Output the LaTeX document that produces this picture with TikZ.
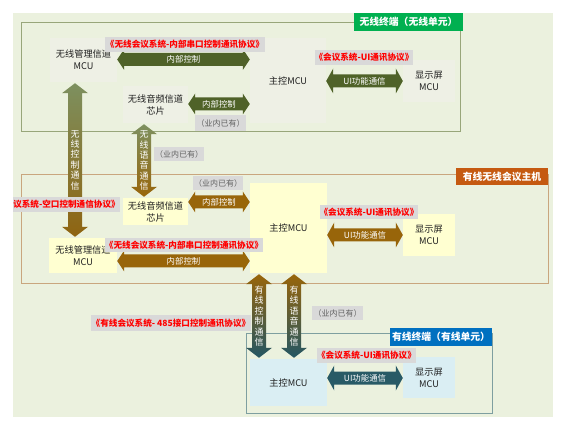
\documentclass[tikz,border=0pt]{standalone}
\usepackage{fontspec}
\setmainfont{Noto Sans CJK SC}
\usetikzlibrary{calc}
\definecolor{bgc}{HTML}{EBF1DE}
\definecolor{wfill}{HTML}{EEF0E5}
\definecolor{hfill}{HTML}{FFFFD1}
\definecolor{dfill}{HTML}{DAEEF3}
\definecolor{warr}{HTML}{4F6228}
\definecolor{harc}{HTML}{98650A}
\definecolor{darc}{HTML}{285A66}
\definecolor{lblgray}{HTML}{D9D9D9}
\definecolor{wframe}{HTML}{98A67A}
\definecolor{hframe}{HTML}{C9A67E}
\definecolor{dframe}{HTML}{7E9FA0}
\definecolor{wtitle}{HTML}{00B050}
\definecolor{htitle}{HTML}{C55A11}
\definecolor{dtitle}{HTML}{0070C0}
\definecolor{vgreen}{HTML}{7D905F}
\definecolor{vbrown}{HTML}{8F6411}
\definecolor{vteal}{HTML}{245663}
% horizontal double arrow: #1 from, #2 to, #3 y, #4 head half height, #5 colour, #6 text, #7 name
\newcommand\hconn[7]{%
  \coordinate (hA) at (#1.east |- 0,#3);
  \coordinate (hB) at (#2.west |- 0,#3);
  \fill[#5] (hA) -- ([shift={(7,-#4)}]hA) -- ([shift={(7,-6.5)}]hA) -- ([shift={(-7,-6.5)}]hB)
    -- ([shift={(-7,-#4)}]hB) -- (hB) -- ([shift={(-7,#4)}]hB) -- ([shift={(-7,6.5)}]hB)
    -- ([shift={(7,6.5)}]hA) -- ([shift={(7,#4)}]hA) -- cycle;
  \node[arrtext] (#7) at ($(hA)!0.5!(hB)$) {#6};
}
% vertical double arrow: #1 top node, #2 bottom node, #3 x, #4 top colour, #5 bottom colour, #6 text, #7 name
\newcommand\vconn[7]{%
  \coordinate (vA) at ([yshift=-1pt]#1.south -| #3,0);
  \coordinate (vB) at ([yshift=1pt]#2.north -| #3,0);
  \shade[top color=#4, bottom color=#5] (vA) -- ([shift={(13,10)}]vA) -- ([shift={(7,10)}]vA)
    -- ([shift={(7,-10)}]vB) -- ([shift={(13,-10)}]vB) -- (vB) -- ([shift={(-13,-10)}]vB)
    -- ([shift={(-7,-10)}]vB) -- ([shift={(-7,10)}]vA) -- ([shift={(-13,10)}]vA) -- cycle;
  \node[vtext] (#7) at ($(vA)!0.5!(vB)$) {#6};
}
\begin{document}
\begin{tikzpicture}[x=1pt,y=-1pt,
  box/.style={inner sep=0pt, align=center, text=black!88, font=\fontsize{9.2}{12}\selectfont},
  wbox/.style={box, fill=wfill},
  hbox/.style={box, fill=hfill},
  dbox/.style={box, fill=dfill},
  proto/.style={fill=lblgray, text=red, inner sep=0pt, font=\bfseries\fontsize{8.6}{10}\selectfont},
  have/.style={fill=lblgray, text=black!62, inner sep=0pt, font=\fontsize{8}{10}\selectfont},
  titlebox/.style={text=white, inner sep=0pt, font=\bfseries\fontsize{9.8}{12}\selectfont},
  arrtext/.style={text=white, inner sep=0pt, font=\fontsize{8.4}{10}\selectfont},
  vtext/.style={text=white, inner sep=0pt, align=center, font=\fontsize{9}{10.4}\selectfont},
  frame/.style={line width=1pt}
]
\useasboundingbox (0,0) rectangle (562,427);
\fill[bgc] (13,13) rectangle (553,417);

% frames
\draw[frame, wframe] (21,23) rectangle (460,132);
\draw[frame, hframe] (21,175) rectangle (548,284);
\draw[frame, dframe] (246,334) rectangle (492,413);

% titles
\node[titlebox, fill=wtitle, minimum width=109pt, minimum height=18pt] (t1) at (408.5,22) {无线终端（无线单元）};
\node[titlebox, fill=htitle, minimum width=92pt, minimum height=17pt] (t2) at (502,176.5) {有线无线会议主机};
\node[titlebox, fill=dtitle, minimum width=102pt, minimum height=18pt] (t3) at (441,337) {有线终端（有线单元）};

% wireless terminal nodes
\node[wbox, minimum width=67pt, minimum height=44pt] (wmcu) at (83.5,60) {无线管理信道\\MCU};
\node[wbox, minimum width=76pt, minimum height=85pt] (wmain) at (288,80.5) {主控MCU};
\node[wbox, minimum width=52pt, minimum height=42pt] (wdisp) at (429,81) {显示屏\\MCU};
\node[wbox, minimum width=65pt, minimum height=37pt] (wchip) at (155.5,104.5) {无线音频信道\\芯片};

% host nodes
\node[hbox, minimum width=65pt, minimum height=27pt] (hchip) at (155.5,211.5) {无线音频信道\\芯片};
\node[hbox, minimum width=68pt, minimum height=35pt] (hmcu) at (83,255.5) {无线管理信道\\MCU};
\node[hbox, minimum width=77pt, minimum height=90pt] (hmain) at (288.5,228) {主控MCU};
\node[hbox, minimum width=52pt, minimum height=42pt] (hdisp) at (429,235) {显示屏\\MCU};

% wired terminal nodes
\node[dbox, minimum width=77pt, minimum height=47pt] (dmain) at (288.5,382.5) {主控MCU};
\node[dbox, minimum width=52pt, minimum height=41pt] (ddisp) at (429,377.5) {显示屏\\MCU};

% horizontal connectors
\hconn{wmcu}{wmain}{59.5}{10.5}{warr}{内部控制}{a1}
\hconn{wchip}{wmain}{104}{10.5}{warr}{内部控制}{a2}
\hconn{wmain}{wdisp}{81}{12.5}{warr}{UI功能通信}{a3}
\hconn{hchip}{hmain}{202}{10.5}{harc}{内部控制}{a4}
\hconn{hmcu}{hmain}{261}{10.5}{harc}{内部控制}{a5}
\hconn{hmain}{hdisp}{235}{12.5}{harc}{UI功能通信}{a6}
\hconn{dmain}{ddisp}{378}{12.5}{darc}{UI功能通信}{a7}

% vertical connectors
\vconn{wmcu}{hmcu}{75}{vgreen}{vbrown}{无\\线\\控\\制\\通\\信}{v1}
\vconn{wchip}{hchip}{144}{vgreen}{harc}{无\\线\\语\\音\\通\\信}{v2}
\vconn{hmain}{dmain}{259}{harc}{vteal}{有\\线\\控\\制\\通\\信}{v3}
\vconn{hmain}{dmain}{294}{harc}{vteal}{有\\线\\语\\音\\通\\信}{v4}

% protocol labels
\node[proto, minimum width=160pt, minimum height=15pt] (p1) at (185,44.5) {《无线会议系统-内部串口控制通讯协议》};
\node[proto, minimum width=94pt, minimum height=15pt] (p2) at (364,57.5) {《会议系统-UI通讯协议》};
\node[proto, minimum width=107pt, minimum height=15pt] (p3) at (66.5,204.5) {议系统-空口控制通信协议》};
\node[proto, minimum width=158pt, minimum height=14pt] (p4) at (184,245) {《无线会议系统-内部串口控制通讯协议》};
\node[proto, minimum width=96pt, minimum height=14pt] (p5) at (369,212.5) {《会议系统-UI通讯协议》};
\node[proto, minimum width=160pt, minimum height=16pt] (p6) at (171,323) {《有线会议系统- 485接口控制通讯协议》};
\node[proto, minimum width=93pt, minimum height=15pt] (p7) at (366.5,355.5) {《会议系统-UI通讯协议》};

% existing-in-industry labels
\node[have, minimum width=51pt, minimum height=16pt] (e1) at (220.5,123) {（业内已有）};
\node[have, minimum width=50pt, minimum height=14pt] (e2) at (179,154) {（业内已有）};
\node[have, minimum width=50pt, minimum height=14pt] (e3) at (218,183.5) {（业内已有）};
\node[have, minimum width=51pt, minimum height=14pt] (e4) at (337.5,313) {（业内已有）};
\end{tikzpicture}
\end{document}
